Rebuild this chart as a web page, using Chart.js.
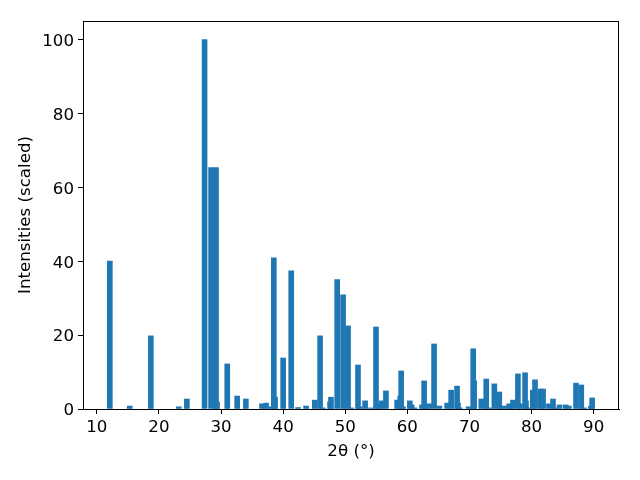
<!DOCTYPE html>
<html>
<head>
<meta charset="utf-8">
<script src="https://cdn.jsdelivr.net/npm/chart.js@4"></script>
<style>
  html, body { margin: 0; padding: 0; background: #fff; }
  canvas { display: block; }
</style>
</head>
<body>
<canvas id="myChart" width="640" height="480"></canvas>
<script>
// peak positions (2theta, degrees) and scaled intensities
const twoTheta = [
  12.1, 15.3, 18.7, 23.2, 24.5, 27.35, 28.4, 29.2, 29.35, 31.0,
  32.6, 34.0, 36.6, 37.25, 38.05, 38.5, 38.7, 40.0, 41.3, 42.4,
  43.7, 45.1, 45.95, 46.4, 47.55, 47.7, 48.7, 49.65, 50.45, 50.95,
  52.05, 52.35, 53.2, 54.15, 54.95, 55.3, 55.85, 56.55, 58.35, 58.85,
  59.0, 59.3, 60.4, 60.7, 61.15, 62.35, 62.7, 63.0, 63.5, 64.3,
  65.15, 66.4, 67.05, 68.0, 68.15, 68.45, 69.85, 70.6, 70.75, 71.9,
  72.7, 73.15, 74.0, 74.8, 74.85, 75.6, 76.4, 76.55, 77.0, 77.8,
  78.15, 78.95, 79.1, 79.45, 80.2, 80.55, 81.4, 81.85, 82.8, 83.45,
  83.8, 84.5, 85.5, 86.0, 87.15, 88.0, 88.45, 89.55, 89.75
];
const intensity = [
  40, 0.8, 19.8, 0.6, 2.7, 100, 65.3, 65.3, 1.9, 12.2,
  3.5, 2.7, 1.4, 1.6, 0.6, 40.9, 3.2, 13.8, 37.4, 0.4,
  0.8, 2.4, 19.8, 0.3, 1.9, 3.2, 35, 30.9, 22.5, 0.3,
  11.9, 0.6, 2.2, 0.3, 22.2, 1.1, 2.2, 4.9, 2.4, 3.5,
  10.3, 0.6, 2.2, 1.1, 0.3, 1.1, 7.6, 0.6, 1.4, 17.6,
  0.8, 1.6, 5.1, 6.2, 1.6, 0.3, 0.6, 16.3, 7.6, 2.7,
  8.1, 0.3, 6.8, 4.6, 0.3, 0.8, 1.4, 0.8, 2.4, 9.5,
  1.4, 9.8, 2.2, 0.3, 5.1, 7.9, 5.4, 5.4, 1.4, 2.7,
  0.3, 1.1, 1.1, 0.8, 7.0, 6.5, 0.3, 0.8, 3.0
];
const xTicks = [10, 20, 30, 40, 50, 60, 70, 80, 90];
const yTicks = [0, 20, 40, 60, 80, 100];

const barWidth = 0.8; // in degrees, like matplotlib default
const font = { family: 'DejaVu Sans', size: 16.67 };

// matplotlib-like 5% autoscale margins
const lo = Math.min(...twoTheta) - barWidth / 2;
const hi = Math.max(...twoTheta) + barWidth / 2;
const xMin = lo - 0.05 * (hi - lo);
const xMax = hi + 0.05 * (hi - lo);
const yMax = Math.max(...intensity) * 1.05;

const points = twoTheta.map((t, i) => ({ x: t, y: intensity[i] }));

const frame = {
    id: 'frame',
    afterDraw(chart) {
        const { ctx, chartArea: a } = chart;
        ctx.save();
        ctx.strokeStyle = '#000';
        ctx.lineWidth = 1;
        ctx.strokeRect(Math.round(a.left) + 0.5, Math.round(a.top) + 0.5,
            Math.round(a.right - a.left) - 1, Math.round(a.bottom - a.top));
        ctx.restore();
    }
};

// bar thickness follows the x scale so it stays 0.8 data units wide
const barSizer = {
    id: 'barSizer',
    afterLayout(chart) {
        const xs = chart.scales.x;
        const w = Math.abs(xs.getPixelForValue(barWidth) - xs.getPixelForValue(0));
        chart.data.datasets[0].barThickness = w;
    }
};

let barConfig = {
    type: 'bar',
    data: {
        datasets: [{
            data: points,
            backgroundColor: '#1f77b4',
            borderWidth: 0,
            barThickness: 5,
            grouped: false
        }]
    },
    options: {
        responsive: false,
        animation: false,
        devicePixelRatio: 1,
        layout: { padding: { left: 0, right: 21, top: 21, bottom: 0 } },
        plugins: {
            legend: { display: false },
            tooltip: { enabled: false }
        },
        scales: {
            x: {
                type: 'linear',
                offset: false,
                min: xMin,
                max: xMax,
                afterFit: (s) => { s.height = 71; },
                afterBuildTicks: (s) => { s.ticks = xTicks.map(v => ({ value: v })); },
                grid: { drawOnChartArea: false, drawTicks: true, tickLength: 5, color: '#000', offset: false },
                border: { display: true, color: '#000', width: 1 },
                ticks: { color: '#000', font: font, padding: 4, maxRotation: 0, autoSkip: false },
                title: { display: true, text: '2θ (°)', color: '#000', font: font, padding: { top: 0, bottom: 18 } }
            },
            y: {
                type: 'linear',
                min: 0,
                max: yMax,
                afterFit: (s) => { s.width = 83; },
                afterBuildTicks: (s) => { s.ticks = yTicks.map(v => ({ value: v })); },
                grid: { drawOnChartArea: false, drawTicks: true, tickLength: 5, color: '#000' },
                border: { display: true, color: '#000', width: 1 },
                ticks: { color: '#000', font: font, padding: 4, labelOffset: 2 },
                title: { display: true, text: 'Intensities (scaled)', color: '#000', font: font, padding: { top: 16, bottom: 0 } }
            }
        }
    },
    plugins: [barSizer, frame]
};

function UpdateChart(chartDOM = "myChart") {
    const ctx = document.getElementById(chartDOM);
    new Chart(ctx, barConfig);
}

UpdateChart();
</script>
</body>
</html>
